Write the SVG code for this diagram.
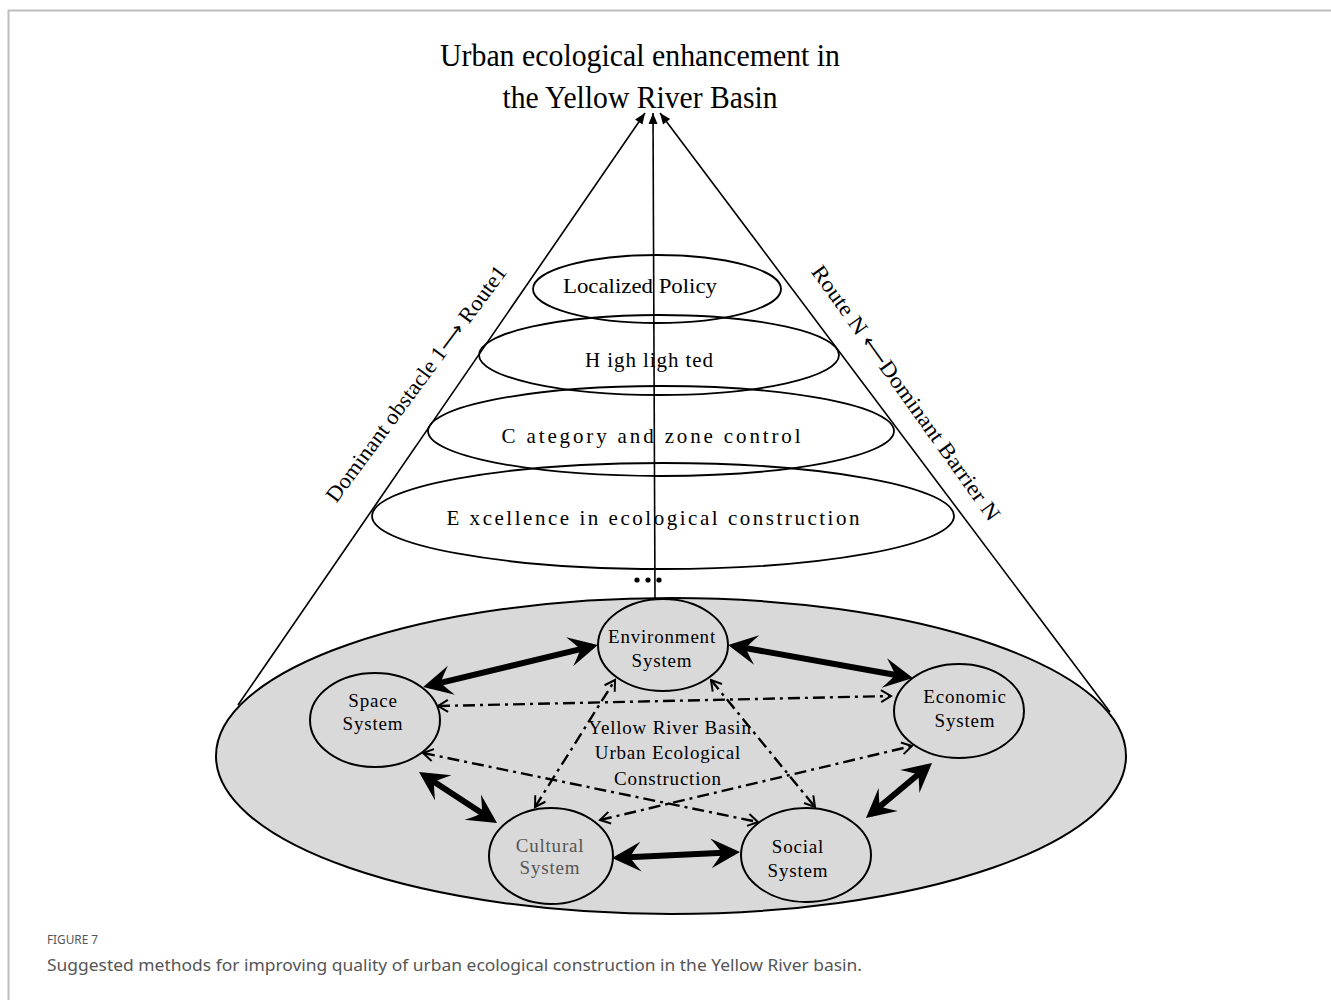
<svg xmlns="http://www.w3.org/2000/svg" width="1331" height="1000" viewBox="0 0 1331 1000">
<style>
.serif{font-family:"Liberation Serif","Times New Roman",serif;fill:#000}
.title{font-size:32px}
.layer{font-size:21px}
.node{font-size:19px;letter-spacing:0.8px}
.side{font-size:22px}
.arr{font-family:"DejaVu Sans",sans-serif;font-size:20px}
.cap{font-family:"Noto Sans","Open Sans",sans-serif;fill:#555}
.ln{stroke:#000;stroke-width:1.6;fill:none}
.el{stroke:#000;stroke-width:1.8;fill:none}
.nd{stroke:#000;stroke-width:2;fill:#d9d9d9}
.thick{stroke:#000;stroke-width:6;fill:none;marker-start:url(#bigHead);marker-end:url(#bigHead)}
.dd{stroke:#000;stroke-width:2.4;fill:none;stroke-dasharray:12 5 3 5;marker-start:url(#openHead);marker-end:url(#openHead)}
</style>
<defs>
<marker id="bigHead" viewBox="-40 -20 50 40" refX="-6" refY="0" markerWidth="50" markerHeight="40" markerUnits="userSpaceOnUse" orient="auto-start-reverse">
<path d="M0,0 L-29,-15 Q-21,-5 -18,0 Q-21,5 -29,15 Z" fill="#000"/>
</marker>
<marker id="openHead" viewBox="-16 -10 20 20" refX="0" refY="0" markerWidth="20" markerHeight="20" markerUnits="userSpaceOnUse" orient="auto-start-reverse">
<path d="M-10,-6 L0,0 L-10,6" fill="none" stroke="#000" stroke-width="2"/>
</marker>
<marker id="smallHead" viewBox="-14 -8 16 16" refX="0" refY="0" markerWidth="16" markerHeight="16" markerUnits="userSpaceOnUse" orient="auto">
<path d="M0,0 L-11,-4.5 L-11,4.5 Z" fill="#000"/>
</marker>
</defs>

<g id="frame">
<line x1="8" y1="10.5" x2="1331" y2="10.5" stroke="#bdbdbd" stroke-width="2"/>
<line x1="8.5" y1="10" x2="8.5" y2="1000" stroke="#bdbdbd" stroke-width="2"/>
</g>

<g id="title">
<text class="serif title" x="640" y="66" text-anchor="middle" textLength="400" lengthAdjust="spacingAndGlyphs">Urban ecological enhancement in</text>
<text class="serif title" x="640" y="108" text-anchor="middle" textLength="275" lengthAdjust="spacingAndGlyphs">the Yellow River Basin</text>
</g>

<g id="base">
<ellipse cx="671" cy="756" rx="455" ry="158" fill="#d9d9d9" stroke="#000" stroke-width="2"/>
</g>

<g id="cone">
<line class="ln" x1="238" y1="705" x2="645" y2="113" marker-end="url(#smallHead)"/>
<line class="ln" x1="1110" y1="712" x2="660" y2="113" marker-end="url(#smallHead)"/>
<line class="ln" x1="655" y1="598" x2="653" y2="113" marker-end="url(#smallHead)"/>
</g>

<g id="layer-localized">
<ellipse class="el" cx="657" cy="289" rx="124" ry="34"/>
<text class="serif" font-size="22" x="640" y="293" text-anchor="middle" textLength="154" lengthAdjust="spacingAndGlyphs">Localized Policy</text>
</g>
<g id="layer-highlighted">
<ellipse class="el" cx="659" cy="355" rx="180" ry="40"/>
<text class="serif layer" x="649" y="367" text-anchor="middle" textLength="128" lengthAdjust="spacing">H igh ligh ted</text>
</g>
<g id="layer-category">
<ellipse class="el" cx="661" cy="431" rx="233" ry="45"/>
<text class="serif layer" x="651" y="443" text-anchor="middle" textLength="299" lengthAdjust="spacing">C ategory and zone control</text>
</g>
<g id="layer-excellence">
<ellipse class="el" cx="663" cy="516" rx="291" ry="53"/>
<text class="serif layer" x="653" y="525" text-anchor="middle" textLength="413" lengthAdjust="spacing">E xcellence in ecological construction</text>
</g>

<g id="dots">
<circle cx="637" cy="580" r="2.6"/>
<circle cx="648" cy="580" r="2.6"/>
<circle cx="659" cy="580" r="2.6"/>
</g>

<g id="side-left">
<text class="serif side" transform="translate(422,388) rotate(-53.5)" text-anchor="middle" textLength="288" lengthAdjust="spacingAndGlyphs">Dominant obstacle 1<tspan class="arr">⟶</tspan> Route1</text>
</g>
<g id="side-right">
<text class="serif side" transform="translate(900,397) rotate(54.5)" text-anchor="middle" textLength="308" lengthAdjust="spacingAndGlyphs">Route N <tspan class="arr">⟵</tspan>Dominant Barrier N</text>
</g>

<g id="connectors">
<path class="thick" d="M429,685.6 L592,646.4"/>
<path class="thick" d="M734,646 L907,677"/>
<path class="thick" d="M424,775.3 L492,819.7"/>
<path class="thick" d="M618,857.7 L734,852.3"/>
<path class="thick" d="M870.6,814.2 L927.4,766.8"/>
<path class="dd" d="M438,706 L891,696"/>
<path class="dd" d="M423,753 L758,822"/>
<path class="dd" d="M600,820 L912,746"/>
<path class="dd" d="M535,807 L615,680"/>
<path class="dd" d="M711,680 L815,807"/>
</g>

<g id="center-label">
<text class="serif node" x="670" y="734" text-anchor="middle">Yellow River Basin</text>
<text class="serif node" x="668" y="759" text-anchor="middle">Urban Ecological</text>
<text class="serif node" x="668" y="785" text-anchor="middle">Construction</text>
</g>

<g id="node-environment">
<ellipse class="nd" cx="663" cy="645" rx="65" ry="46"/>
<text class="serif node" x="662" y="643" text-anchor="middle">Environment</text>
<text class="serif node" x="662" y="667" text-anchor="middle">System</text>
</g>
<g id="node-space">
<ellipse class="nd" cx="375" cy="720" rx="65" ry="47"/>
<text class="serif node" x="373" y="707" text-anchor="middle">Space</text>
<text class="serif node" x="373" y="730" text-anchor="middle">System</text>
</g>
<g id="node-economic">
<ellipse class="nd" cx="959" cy="711" rx="65" ry="47"/>
<text class="serif node" x="965" y="703" text-anchor="middle">Economic</text>
<text class="serif node" x="965" y="727" text-anchor="middle">System</text>
</g>
<g id="node-cultural">
<ellipse class="nd" cx="551" cy="856" rx="62" ry="48"/>
<text class="serif node" x="550" y="852" text-anchor="middle" style="fill:#555">Cultural</text>
<text class="serif node" x="550" y="874" text-anchor="middle" style="fill:#555">System</text>
</g>
<g id="node-social">
<ellipse class="nd" cx="806" cy="855" rx="65" ry="47"/>
<text class="serif node" x="798" y="853" text-anchor="middle">Social</text>
<text class="serif node" x="798" y="877" text-anchor="middle">System</text>
</g>

<g id="caption">
<text class="cap" x="47" y="944" font-size="12" textLength="51" lengthAdjust="spacingAndGlyphs">FIGURE 7</text>
<text class="cap" x="47" y="971" font-size="16" textLength="815" lengthAdjust="spacingAndGlyphs">Suggested methods for improving quality of urban ecological construction in the Yellow River basin.</text>
</g>
</svg>
